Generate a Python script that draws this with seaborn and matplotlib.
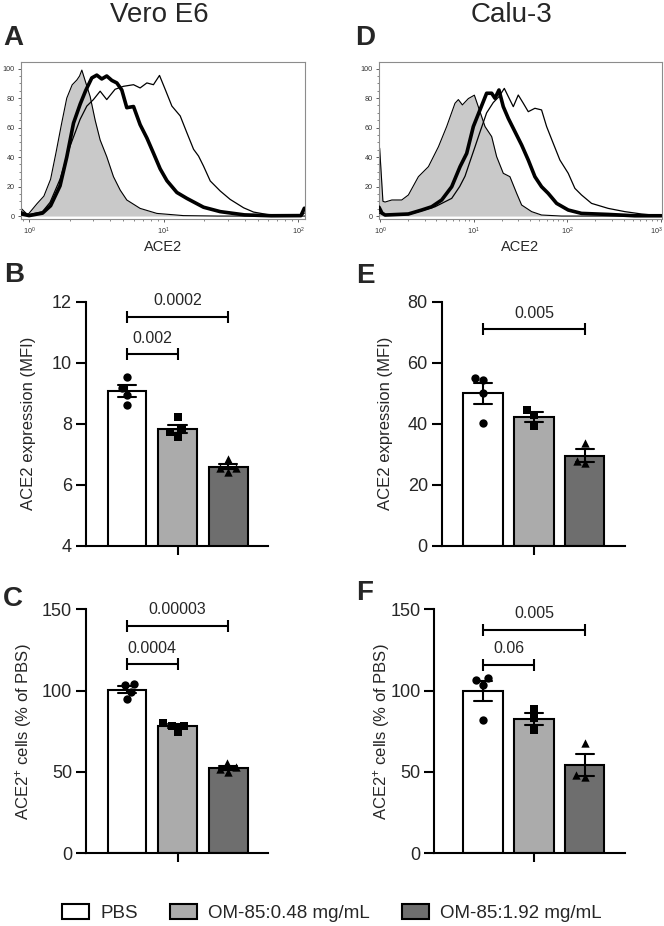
import numpy as np
import pandas as pd
import matplotlib
matplotlib.use("Agg")
import matplotlib.pyplot as plt
import seaborn as sns
from matplotlib.patches import Patch
from matplotlib.ticker import MultipleLocator, LogLocator, NullFormatter
import matplotlib.transforms as mtransforms

sns.set_theme(style="ticks")
plt.rcParams["font.family"] = ["Liberation Sans", "DejaVu Sans"]
plt.rcParams["mathtext.fontset"] = "custom"
plt.rcParams["mathtext.rm"] = "Liberation Sans"
plt.rcParams["mathtext.it"] = "Liberation Sans:italic"
plt.rcParams["mathtext.bf"] = "Liberation Sans:bold"

# ---------------- data ----------------
groups = ["PBS", "OM-85:0.48 mg/mL", "OM-85:1.92 mg/mL"]
bar_colors = ["#ffffff", "#ababab", "#6e6e6e"]
markers = ["o", "s", "^"]

# Flow histograms (log10 ACE2 intensity, % of max)
A_grey_log = [-0.059, -0.01, 0.06, 0.11, 0.16, 0.20, 0.24, 0.28, 0.32, 0.355, 0.375, 0.392, 0.416,
              0.454, 0.491, 0.528, 0.577, 0.627, 0.677, 0.726, 0.825, 0.949, 1.147, 1.40, 2.05]
A_grey_pct = [5.2, 0.8, 8.5, 13.5, 25, 43, 62, 80, 89, 92.3, 95, 99, 92,
              81, 65, 51.6, 40.3, 26.7, 17.6, 10.9, 5.2, 1.8, 0.3, 0, 0]
A_thick_log = [-0.059, 0.0, 0.10, 0.16, 0.23, 0.28, 0.33, 0.38, 0.42, 0.466, 0.503, 0.54, 0.577, 0.615,
               0.652, 0.689, 0.726, 0.776, 0.825, 0.875, 0.924, 0.974, 1.024, 1.098, 1.172, 1.296,
               1.42, 1.6, 1.8, 2.02, 2.045]
A_thick_pct = [1.5, 0.3, 2, 7, 20.5, 40, 63, 76, 85, 93.7, 95.6, 93, 95, 92,
               90.3, 85.5, 73.5, 74.3, 62, 53, 42.7, 32, 24, 16, 12, 6,
               3, 0.8, 0.2, 0.3, 5.3]
A_thin_log = [-0.059, 0.0, 0.10, 0.156, 0.23, 0.305, 0.379, 0.429, 0.478, 0.528, 0.577, 0.639, 0.701,
              0.776, 0.825, 0.875, 0.924, 0.969, 1.011, 1.061, 1.123, 1.172, 1.222, 1.259, 1.296,
              1.346, 1.42, 1.494, 1.594, 1.668, 1.767, 1.891, 2.02, 2.045]
A_thin_pct = [3, 1, 3, 9.3, 25, 47.5, 65.6, 74.6, 79, 84.7, 79, 86, 88,
              89.1, 86.9, 90.3, 89.1, 95.4, 86, 74.6, 67.9, 56.6, 45.3, 40.7, 33.9,
              23.8, 17, 11.3, 5.6, 2.7, 1.1, 0, 0, 2]

D_grey_log = [-0.012, -0.005, 0.03, 0.053, 0.125, 0.231, 0.302, 0.409, 0.516, 0.623, 0.711, 0.800,
              0.836, 0.879, 0.943, 1.007, 1.049, 1.121, 1.192, 1.245, 1.316, 1.387, 1.459, 1.512,
              1.619, 1.725, 1.939, 3.012]
D_grey_pct = [47, 46, 10, 9.5, 10.9, 10.9, 14.3, 26.7, 33.5, 47, 60.7, 76.5,
              79, 75.4, 79.7, 82, 74.2, 60.7, 53.9, 40.3, 29, 26.7, 15.4, 7.5,
              3, 0.7, 0, 0]
D_thick_log = [-0.012, 0.02, 0.053, 0.302, 0.445, 0.551, 0.658, 0.765, 0.854, 0.925, 0.996, 1.067,
               1.138, 1.192, 1.227, 1.270, 1.316, 1.370, 1.441, 1.512, 1.583, 1.654, 1.725, 1.796,
               1.886, 2.010, 2.152, 2.437, 2.721, 3.006]
D_thick_pct = [6, 2, 0.7, 1.4, 4.1, 6.3, 10.9, 19.9, 33.5, 42.5, 60.7, 72,
               83.3, 83.3, 79.9, 85.5, 74.2, 66.2, 57.2, 48.2, 38, 26.7, 19.9, 15.4,
               8.6, 4.1, 1.8, 1.1, 0.2, 0.2]
D_thin_log = [-0.012, 0.053, 0.302, 0.587, 0.765, 0.85, 0.907, 0.96, 1.014, 1.067, 1.138, 1.209,
              1.270, 1.327, 1.370, 1.423, 1.476, 1.530, 1.583, 1.654, 1.725, 1.779, 1.850, 1.921,
              2.010, 2.081, 2.152, 2.259, 2.437, 2.615, 2.793, 3.006]
D_thin_pct = [2, 1, 1, 6.3, 12, 20, 27, 37, 47, 57, 70, 77,
              81, 86.6, 81, 74.2, 82.1, 76.5, 70.8, 73.1, 72, 60.7, 49.3, 38,
              29, 18.8, 14.3, 8.6, 5.2, 3, 1.4, 0.2]

# Bar panels: individual replicates
B_pbs, B_low, B_high = [9.54, 9.16, 8.94, 8.61], [8.23, 7.80, 7.72, 7.57], [6.84, 6.54, 6.54, 6.43]
E_pbs, E_low, E_high = [55.1, 54.3, 50.2, 40.1], [44.5, 42.8, 39.3], [33.8, 27.9, 27.0]
C_pbs, C_low, C_high = [104.1, 103.5, 99.4, 94.7], [80.3, 78.5, 78.5, 74.8], [55.3, 52.9, 51.6, 50.2]
F_pbs, F_low, F_high = [108.0, 106.7, 103.7, 81.8], [88.5, 83.0, 75.5], [67.6, 48.2, 47.1]

# p-value brackets: (group i, group j, height, label)
B_sig = [(0, 1, 10.28, "0.002"), (0, 2, 11.51, "0.0002")]
E_sig = [(0, 2, 71.0, "0.005")]
C_sig = [(0, 1, 116.2, "0.0004"), (0, 2, 140.0, "0.00003")]
F_sig = [(0, 1, 115.9, "0.06"), (0, 2, 137.3, "0.005")]

# ---------------- figure ----------------
W, H = 664, 926
fig = plt.figure(figsize=(W / 100, H / 100), dpi=100)


def px_axes(left, top, right, bottom):
    return fig.add_axes([left / W, 1 - bottom / H, (right - left) / W, (bottom - top) / H])


def hist_panel(ax, curves_log, curves_pct, xlim_log, major):
    gx = np.power(10.0, curves_log[0])
    ax.fill_between(gx, 0, curves_pct[0], color="#c9c9c9", lw=0, zorder=1)
    sns.lineplot(x=gx, y=curves_pct[0], color="black", lw=0.8, ax=ax, zorder=2)
    sns.lineplot(x=np.power(10.0, curves_log[1]), y=curves_pct[1], color="black", lw=2.6, ax=ax, zorder=3)
    sns.lineplot(x=np.power(10.0, curves_log[2]), y=curves_pct[2], color="black", lw=0.9, ax=ax, zorder=4)
    ax.set_xscale("log")
    ax.set_xlim(10 ** xlim_log[0], 10 ** xlim_log[1])
    ax.set_ylim(-2, 104.5)
    ax.set_xticks([10 ** k for k in major])
    ax.set_xticklabels([r"$10^{%d}$" % k for k in major])
    ax.xaxis.set_minor_locator(LogLocator(base=10, subs=np.arange(2, 10)))
    ax.xaxis.set_minor_formatter(NullFormatter())
    ax.set_yticks([0, 20, 40, 60, 80, 100])
    ax.yaxis.set_minor_locator(MultipleLocator(5))
    for s in ax.spines.values():
        s.set_color("#8c8c8c")
        s.set_linewidth(0.8)
    ax.tick_params(axis="both", which="major", length=2.5, width=0.6, color="#444444",
                   labelsize=5.2, labelcolor="#333333", pad=2)
    ax.tick_params(axis="both", which="minor", length=1.5, width=0.5, color="#555555")
    ax.set_ylabel("")
    ax.set_xlabel("ACE2", fontsize=10.5, va="center")
    ax.xaxis.set_label_coords(0.5, -28 / 157)


axA = px_axes(21, 62, 305, 219)
hist_panel(axA, [A_grey_log, A_thick_log, A_thin_log], [A_grey_pct, A_thick_pct, A_thin_pct],
           (-0.06, 2.05), [0, 1, 2])
axD = px_axes(379, 62, 662, 219)
hist_panel(axD, [D_grey_log, D_thick_log, D_thin_log], [D_grey_pct, D_thick_pct, D_thin_pct],
           (-0.012, 3.012), [0, 1, 2, 3])
# keep the last decade label inside the figure edge
last = axD.get_xticklabels()[-1]
last.set_transform(last.get_transform() + mtransforms.ScaledTranslation(-5 / 100, 0, fig.dpi_scale_trans))


def bar_panel(ax, values, ylim, yticks, ylabel, sig, xlim):
    df = pd.DataFrame({"group": np.repeat(groups, [len(v) for v in values]),
                       "value": np.concatenate(values)})
    sns.barplot(data=df, x="group", y="value", hue="group", order=groups, hue_order=groups,
                palette=bar_colors, saturation=1, errorbar="se", capsize=0.36, width=0.77,
                edgecolor="black", linewidth=1.5, err_kws={"color": "black", "linewidth": 1.5},
                legend=False, ax=ax)
    for g, m in zip(groups, markers):
        sns.swarmplot(data=df[df["group"] == g], x="group", y="value", order=groups, marker=m,
                      color="black", size=6, ax=ax)
    ax.set_xlim(*xlim)
    ax.set_ylim(*ylim)
    ax.set_yticks(yticks)
    ax.set_xticks([1])
    ax.set_xticklabels([""])
    sns.despine(ax=ax)
    for s in ["left", "bottom"]:
        ax.spines[s].set_linewidth(1.5)
        ax.spines[s].set_color("black")
    ax.tick_params(axis="y", length=7, width=1.5, color="black", labelsize=13, pad=3)
    ax.tick_params(axis="x", length=6.5, width=1.5, color="black")
    ax.set_xlabel("")
    ax.set_ylabel(ylabel, fontsize=12, va="center")
    for i, j, y, lab in sig:
        ax.plot([i, j], [y, y], color="black", lw=1.5, marker="|", markersize=9, mew=1.5,
                clip_on=False, zorder=6)
        ax.annotate(lab, xy=((i + j) / 2, y), xytext=(0, 11.5), textcoords="offset points",
                    ha="center", va="center", fontsize=11.5, annotation_clip=False)


axB = px_axes(86, 301.7, 268, 545.7)
bar_panel(axB, [B_pbs, B_low, B_high], (4, 12), [4, 6, 8, 10, 12], "ACE2 expression (MFI)", B_sig,
          (-0.812, 2.79))
axB.yaxis.set_label_coords((28 - 86) / 182, 0.5)

axE = px_axes(441.7, 301.7, 625, 545.7)
bar_panel(axE, [E_pbs, E_low, E_high], (0, 80), [0, 20, 40, 60, 80], "ACE2 expression (MFI)", E_sig,
          (-0.812, 2.79))
axE.yaxis.set_label_coords((385 - 441.7) / 183.3, 0.5)

axC = px_axes(86, 609.3, 268, 853.3)
bar_panel(axC, [C_pbs, C_low, C_high], (0, 150), [0, 50, 100, 150], r"ACE2$^{+}$ cells (% of PBS)",
          C_sig, (-0.812, 2.79))
axC.yaxis.set_label_coords((24 - 86) / 182, 0.5)

axF = px_axes(434.3, 609.3, 625, 853.3)
bar_panel(axF, [F_pbs, F_low, F_high], (0, 150), [0, 50, 100, 150], r"ACE2$^{+}$ cells (% of PBS)",
          F_sig, (-0.958, 2.79))
axF.yaxis.set_label_coords((381 - 434.3) / 190.7, 0.5)

# titles and panel letters
fig.text(159 / W, 1 - 15 / H, "Vero E6", ha="center", va="center", fontsize=20)
fig.text(512 / W, 1 - 15 / H, "Calu-3", ha="center", va="center", fontsize=20)
for lab, x, y in [("A", 3, 38), ("D", 355, 38), ("B", 4, 275), ("E", 356, 276),
                  ("C", 3, 599), ("F", 356, 593)]:
    fig.text(x / W, 1 - y / H, lab, ha="left", va="center", fontsize=20, fontweight="bold")

handles = [Patch(facecolor=c, edgecolor="black", linewidth=1.5, label=g)
           for g, c in zip(groups, bar_colors)]
fig.legend(handles=handles, loc="center", bbox_to_anchor=(0.5, 1 - 913 / H), ncol=3, frameon=False,
           fontsize=13.5, handlelength=1.45, handleheight=0.8, handletextpad=0.6, columnspacing=1.7)

fig.savefig("out.png", dpi=100)
